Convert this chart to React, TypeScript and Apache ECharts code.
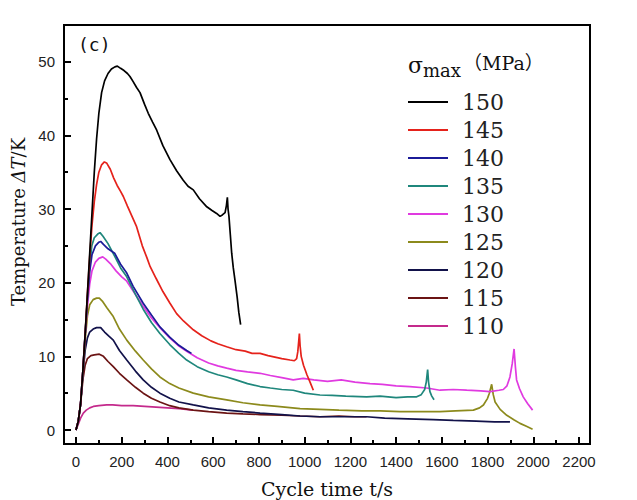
import React, { useEffect, useRef } from "react";
import * as echarts from "echarts";

const seriesNames = ["150", "145", "140", "135", "130", "125", "120", "115", "110"];
const seriesColors = ["#000000", "#e5221b", "#1b1b98", "#1f877c", "#e03ae0", "#8c8a1c", "#12124a", "#6b1414", "#c42a8c"];

const xTickStep = 200;
const xMaxTick = 2200;
const yTickStep = 10;
const yMaxTick = 50;

const s150 = [[0,0],[10,1.2],[20,3.5],[30,8],[40,13],[50,18.5],[60,24],[70,29.5],[80,35],[90,39.5],[100,43],[112,45.8],[125,47.4],[140,48.4],[155,49],[170,49.3],[181,49.4],[195,49.1],[210,48.8],[225,48.4],[236,48],[250,47.3],[265,46.5],[280,45.8],[300,44.2],[316,43],[335,41.8],[353,40.7],[380,38.6],[411,36.7],[440,35.2],[469,33.9],[490,33.1],[513,32.6],[540,31.4],[572,30.3],[595,29.8],[615,29.4],[630,29.0],[640,29.2],[652,29.5],[658,30.5],[662,31.6],[665,30],[669,29],[675,26.5],[681,24],[688,22],[695,20.4],[705,18],[712,16],[720,14.3]];
const s145 = [[0,0],[10,1.2],[20,3.5],[30,8],[40,13],[50,18.5],[60,23.5],[70,27.8],[80,31],[90,33.3],[100,35],[112,36],[124,36.4],[135,36.2],[150,35.4],[165,34.2],[180,33.2],[195,32.4],[207,31.7],[225,30.4],[245,29],[265,27.6],[290,25],[310,23.4],[324,22.2],[350,20.6],[380,18.8],[411,17.2],[440,15.8],[470,14.8],[513,13.6],[550,12.8],[590,12.1],[620,11.7],[659,11.3],[700,10.9],[740,10.7],[770,10.4],[805,10.4],[840,10.1],[870,9.9],[900,9.7],[936,9.5],[955,9.4],[965,9.7],[970,10.6],[974,12],[977,13.1],[980,11.5],[985,10],[995,8.8],[1010,7.5],[1025,6.4],[1038,5.4]];
const s140 = [[0,0],[10,1.2],[20,3.5],[30,8],[40,13],[50,17.8],[60,21.5],[70,23.8],[85,25],[100,25.5],[108,25.6],[120,25.2],[140,24.6],[169,24],[195,22.5],[222,21.3],[250,19.5],[294,17.2],[330,15.6],[367,14],[410,12.6],[450,11.5],[484,10.8],[505,10.4]];
const s135 = [[0,0],[10,1.2],[20,3.5],[30,8],[40,13],[50,18],[60,22.3],[69,25],[80,26.1],[95,26.6],[105,26.8],[118,26.3],[140,25.3],[169,23.6],[195,22],[222,20.8],[260,18.4],[294,16.4],[330,14.6],[367,13.1],[410,11.6],[450,10.4],[484,9.5],[530,8.6],[580,7.9],[620,7.5],[659,7.2],[700,6.8],[750,6.3],[805,5.9],[850,5.7],[900,5.5],[950,5.4],[1000,5],[1067,4.75],[1120,4.7],[1180,4.6],[1271,4.5],[1330,4.6],[1400,4.4],[1450,4.5],[1490,4.5],[1510,4.8],[1525,5.5],[1532,6.5],[1538,8.2],[1542,6.5],[1548,5.2],[1556,4.6],[1566,4.1]];
const s130 = [[0,0],[10,1.2],[20,3.5],[30,8],[40,12.8],[50,16.8],[60,19.8],[70,21.6],[85,22.8],[100,23.3],[117,23.5],[130,23.2],[150,22.6],[175,21.6],[200,20.8],[222,20.2],[260,18.4],[294,16.8],[330,15.2],[367,13.9],[410,12.5],[450,11.4],[484,10.7],[530,9.8],[580,9.1],[620,8.7],[659,8.4],[700,8.1],[750,7.9],[805,7.7],[850,7.4],[900,7.1],[950,6.8],[994,7.0],[1040,6.8],[1100,6.6],[1160,6.8],[1220,6.5],[1286,6.3],[1340,6.2],[1400,6],[1460,5.9],[1534,5.7],[1592,5.4],[1650,5.5],[1709,5.4],[1770,5.3],[1811,5.2],[1850,5.4],[1869,5.5],[1885,6],[1898,7.2],[1908,9],[1916,11],[1922,8.5],[1927,6.8],[1940,5.6],[1956,4.5],[1975,3.6],[1997,2.7]];
const s125 = [[0,0],[10,1.2],[20,3.5],[30,7.8],[40,12.2],[50,15.5],[60,17],[75,17.7],[90,17.9],[102,17.9],[115,17.5],[135,16.6],[163,15.4],[190,13.7],[222,12.2],[260,10.7],[294,9.5],[330,8.3],[367,7.2],[410,6.3],[450,5.7],[513,5],[580,4.5],[659,4.1],[730,3.7],[805,3.4],[880,3.2],[980,2.9],[1067,2.8],[1150,2.7],[1250,2.6],[1330,2.6],[1417,2.5],[1500,2.5],[1592,2.5],[1660,2.6],[1738,2.7],[1765,3],[1782,3.4],[1800,4.3],[1808,5],[1818,6.2],[1825,4.8],[1833,3.8],[1855,2.8],[1884,2],[1915,1.4],[1942,0.9],[1970,0.5],[1997,0.1]];
const s120 = [[0,0],[10,1.2],[20,3.5],[30,7.5],[40,10.8],[50,12.5],[60,13.3],[75,13.7],[90,13.9],[108,13.9],[125,13.3],[145,12.7],[163,12.2],[190,10.8],[222,9.5],[260,8],[294,6.8],[330,5.8],[367,5],[410,4.3],[450,3.8],[513,3.4],[580,3],[659,2.7],[730,2.5],[805,2.3],[900,2.1],[980,1.9],[1067,1.8],[1150,1.8],[1271,1.8],[1350,1.6],[1450,1.5],[1563,1.4],[1650,1.3],[1750,1.2],[1830,1.1],[1898,1.1]];
const s115 = [[0,0],[10,1.2],[20,3.5],[30,6.8],[40,8.8],[50,9.7],[65,10.1],[80,10.2],[102,10.3],[120,10],[140,9.3],[163,8.6],[190,7.7],[222,6.8],[260,5.8],[294,5],[330,4.3],[367,3.8],[410,3.3],[450,3],[513,2.7],[580,2.5],[659,2.3],[730,2.2],[805,2.1],[900,2],[980,1.9],[1067,1.8],[1150,1.9],[1220,1.8],[1271,1.8]];
const s110 = [[0,0],[10,0.8],[20,1.6],[32,2.3],[45,2.7],[60,3],[76,3.2],[100,3.3],[134,3.4],[160,3.4],[200,3.3],[250,3.3],[300,3.2],[350,3.1],[400,3],[450,2.9],[512,2.7]];

const seriesData = [s150, s145, s140, s135, s130, s125, s120, s115, s110];

const serifFont = '"DejaVu Serif", "Liberation Serif", serif';

export default function App() {
  const ref = useRef<HTMLDivElement>(null);
  useEffect(() => {
    if (!ref.current) return;
    const chart = echarts.init(ref.current, null, { renderer: "svg" });
    const axisLabelStyle = { fontFamily: '"Liberation Sans", Arial, sans-serif', fontSize: 15, color: "#222222", formatter: (v: number) => String(v) };
    const tickLine = { color: "#000000", width: 2 };
    const frameL = 64, frameT = 25, frameR = 590, frameB = 444;
    const edge = (x: number, y: number, w: number, h: number) => ({
      type: "rect", z: 100, shape: { x, y, width: w, height: h }, style: { fill: "#000000" },
    });
    const option: any = {
      animation: false,
      backgroundColor: "#ffffff",
      grid: { left: 76, right: 58, top: 61.7, bottom: 70, containLabel: false },
      xAxis: {
        type: "value", min: 0, max: xMaxTick, interval: xTickStep, position: "bottom", offset: 14,
        axisLine: { show: false, onZero: false },
        splitLine: { show: false },
        axisTick: { show: true, inside: true, length: 7, lineStyle: tickLine },
        minorTick: { show: true, splitNumber: 2, length: 4, lineStyle: tickLine },
        axisLabel: { ...axisLabelStyle, margin: 10 },
      },
      yAxis: {
        type: "value", min: 0, max: yMaxTick, interval: yTickStep, position: "left", offset: 12,
        axisLine: { show: false, onZero: false },
        splitLine: { show: false },
        axisTick: { show: true, inside: true, length: 7, lineStyle: tickLine },
        minorTick: { show: true, splitNumber: 2, length: 4, lineStyle: tickLine },
        axisLabel: { ...axisLabelStyle, margin: 9 },
      },
      legend: {
        orient: "vertical",
        left: 408,
        top: 90,
        padding: 0,
        itemWidth: 40,
        itemHeight: 2,
        itemGap: 4,
        icon: "rect",
        data: seriesNames,
        textStyle: { fontFamily: serifFont, fontSize: 22, lineHeight: 24, color: "#222222", padding: [0, 0, 0, 9] },
      },
      series: seriesNames.map((name, i) => ({
        name,
        type: "line",
        data: seriesData[i],
        symbol: "none",
        smooth: false,
        clip: false,
        color: seriesColors[i],
        lineStyle: { width: 1.7, color: seriesColors[i] },
        z: 2 + (seriesNames.length - i),
      })),
      graphic: [
        edge(frameL - 1, frameT - 1, frameR - frameL + 2, 2),
        edge(frameL - 1, frameB - 1, frameR - frameL + 2, 2),
        edge(frameL - 1, frameT - 1, 2, frameB - frameT + 2),
        edge(frameR - 1, frameT - 1, 2, frameB - frameT + 2),
        { type: "text", left: 78, top: 35, style: { text: "(c)", font: '18px "DejaVu Sans Mono", monospace', fill: "#111111" } },
        { type: "text", left: 408, top: 54, style: { text: "σ", font: '22px ' + serifFont, fill: "#111111" } },
        { type: "text", left: 423, top: 61, style: { text: "max", font: '18px ' + serifFont, fill: "#111111" } },
        { type: "text", left: 463, top: 53, style: { text: "（MPa）", font: '19px "DejaVu Serif", "Noto Sans CJK SC", serif', fill: "#111111" } },
        { type: "text", x: 327, y: 489, style: { text: "Cycle time t/s", font: '19px ' + serifFont, fill: "#111111", textAlign: "center", textVerticalAlign: "middle" } },
        {
          type: "text", x: 18, y: 222, rotation: Math.PI / 2,
          style: {
            text: "{a|Temperature }{b|ΔT}{a|/K}",
            textAlign: "center", textVerticalAlign: "middle", fill: "#111111",
            rich: {
              a: { fontFamily: serifFont, fontSize: 18, fill: "#111111" },
              b: { fontFamily: serifFont, fontSize: 18, fontStyle: "italic", fill: "#111111" },
            },
          },
        },
      ],
    };
    chart.setOption(option);
    return () => chart.dispose();
  }, []);
  return (
    <div style={{ position: "fixed", left: 0, top: 0, width: 637, height: 500, background: "#ffffff" }}>
      <div ref={ref} style={{ position: "absolute", left: 0, top: 0, width: 637, height: 500 }} />
      <div style={{ position: "absolute", left: 63, top: 24, width: 528, height: 421, boxSizing: "border-box", border: "2px solid #000", pointerEvents: "none" }} />
    </div>
  );
}
